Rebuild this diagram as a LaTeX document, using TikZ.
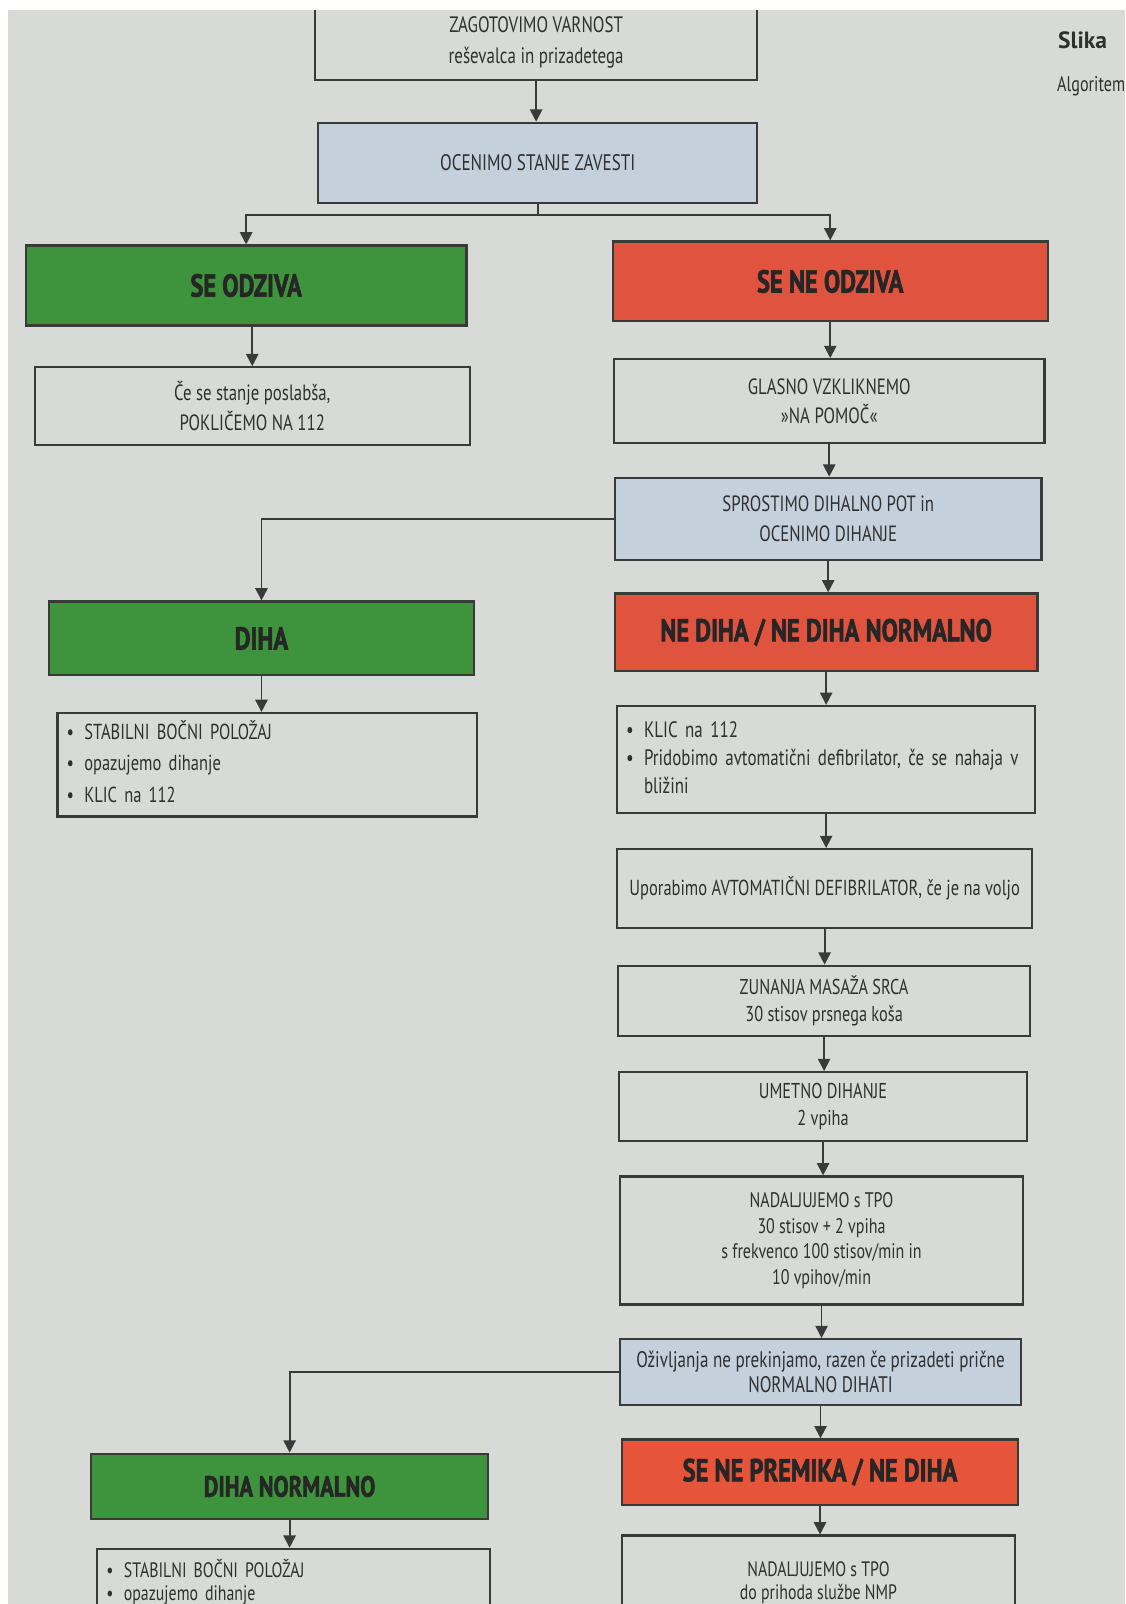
\documentclass[tikz,border=0pt]{standalone}
\usepackage{fontspec}
\setmainfont{PT Sans}
\newfontfamily\cf{PT Sans}[FakeStretch=0.76]
\newfontfamily\hf{PT Sans}[FakeStretch=0.77,BoldFeatures={FakeBold=1.8}]
\usetikzlibrary{arrows.meta}
\definecolor{paper}{HTML}{D8DAD8}
\definecolor{bluef}{HTML}{C4D1DD}
\definecolor{greenf}{HTML}{3E943C}
\definecolor{redf}{HTML}{E0533F}
\definecolor{redg}{HTML}{E6553A}
\definecolor{ink}{HTML}{303030}
\definecolor{edge}{HTML}{3A3A3A}
\newcommand\tf[2]{\cf\fontsize{#1}{#2}\selectfont}
\newcommand\hdf[1]{\hf\bfseries\fontsize{#1}{18}\selectfont}
\newcommand\bx[7]{\node[#6, minimum width={(#4-#2)*0.5pt}, minimum height={(#5-#3)*0.5pt}, anchor=north west] (#1) at (#2,#3) {#7};}
\tikzset{
  box/.style={draw=edge, line width=1.1pt, inner sep=0pt, align=center, text=ink, fill=paper},
  bluebox/.style={box, fill=bluef},
  greenbox/.style={box, fill=greenf, text=black!85, font=\hdf{15.5}},
  redbox/.style={box, fill=redf, text=black!85, font=\hdf{15.5}},
  bulbox/.style={box, align=left, inner xsep=4.5pt},
  arr/.style={draw=edge, line width=0.9pt, -{Triangle[length=6pt,width=6pt]}},
  ln/.style={draw=edge, line width=0.9pt}
}
\begin{document}
\begin{tikzpicture}[x=0.5pt,y=-0.5pt]
\useasboundingbox (0,0) rectangle (1100,1568);
\fill[white] (0,0) rectangle (1100,1568);
\begin{scope}
\clip (8,10) rectangle (1100,1568);
\fill[paper] (8,10) rectangle (1100,1568);
% right margin text
\node[anchor=base west, inner sep=0pt, text=ink, font=\bfseries\fontsize{11.5}{14}\selectfont] (slika) at (1034,47) {Slika};
\node[anchor=base west, inner sep=0pt, text=ink, font=\tf{10.4}{12}] (alg) at (1033,89) {Algoritem};
% boxes
\bx{z}{307}{4}{739}{77}{box, font=\tf{10.9}{15.5}}{ZAGOTOVIMO VARNOST\\ reševalca in prizadetega}
\bx{oc}{310}{119}{739}{197}{bluebox, font=\tf{11}{15}}{OCENIMO STANJE ZAVESTI}
\bx{se}{24}{239}{455}{317}{greenbox}{SE ODZIVA}
\bx{sne}{598}{235}{1023}{313}{redbox}{SE NE ODZIVA}
\bx{ce}{33}{358}{458}{434}{box, font=\tf{10.8}{14.5}}{Če se stanje poslabša,\\ POKLIČEMO NA 112}
\bx{gl}{599}{350}{1020}{432}{box, font=\tf{10.8}{14}}{GLASNO VZKLIKNEMO\\ »NA POMOČ«}
\bx{sp}{600}{466}{1017}{546}{bluebox, font=\tf{10.8}{14.5}}{SPROSTIMO DIHALNO POT in\\ OCENIMO DIHANJE}
\bx{diha}{47}{587}{462}{659}{greenbox}{DIHA}
\bx{nd}{600}{579}{1013}{655}{redbox}{NE DIHA / NE DIHA NORMALNO}
\bx{b1}{55}{696}{465}{797}{bulbox, text width={(465-55-18)*0.5pt}, font=\tf{10.6}{15.2}}{\begin{tabular}{@{}l@{\hspace{5pt}}l@{}}\textbullet & STABILNI BOČNI POLOŽAJ\\ \textbullet & opazujemo dihanje\\ \textbullet & KLIC na 112\end{tabular}}
\bx{b2}{602}{689}{1011}{794}{bulbox, text width={(1011-602-18)*0.5pt}, font=\tf{10.9}{13.8}}{\begin{tabular}{@{}l@{\hspace{5pt}}l@{}}\textbullet & KLIC na 112\\ \textbullet & Pridobimo avtomatični defibrilator, če se nahaja v\\ & bližini\end{tabular}}
\bx{up}{602}{829}{1008}{906}{box, font=\tf{10.6}{13.5}}{Uporabimo AVTOMATIČNI DEFIBRILATOR, če je na voljo}
\bx{zm}{603}{943}{1006}{1012}{box, font=\tf{10.5}{13}}{ZUNANJA MASAŽA SRCA\\ 30 stisov prsnega koša}
\bx{ud}{604}{1047}{1003}{1114}{box, font=\tf{10.5}{13}}{UMETNO DIHANJE\\ 2 vpiha}
\bx{nt}{605}{1149}{999}{1274}{box, font=\tf{10.3}{12.5}}{NADALJUJEMO s TPO\\ 30 stisov + 2 vpiha\\ s frekvenco 100 stisov/min in\\ 10 vpihov/min}
\bx{oz}{605}{1308}{997}{1372}{bluebox, font=\tf{11}{12}}{Oživljanja ne prekinjamo, razen če prizadeti prične\\ NORMALNO DIHATI}
\bx{dn}{88}{1420}{476}{1484}{greenbox, font=\hdf{14.3}}{DIHA NORMALNO}
\bx{snp}{607}{1406}{994}{1470}{redbox, fill=redg}{SE NE PREMIKA / NE DIHA}
\bx{b3}{94}{1513}{478}{1581}{bulbox, text width={(478-94-18)*0.5pt}, font=\tf{10.2}{11.2}}{\begin{tabular}{@{}l@{\hspace{5pt}}l@{}}\textbullet & STABILNI BOČNI POLOŽAJ\\ \textbullet & opazujemo dihanje\end{tabular}}
\bx{nt2}{607}{1500}{991}{1592}{box, font=\tf{10.2}{11.5}}{NADALJUJEMO s TPO\\ do prihoda službe NMP}
% connectors
\draw[arr] (z.south) -- (z.south |- oc.north);
\coordinate (j1) at (526,210);
\draw[ln] (oc.south) -- (oc.south |- j1);
\draw[arr] (oc.south |- j1) -| (se.north);
\draw[arr] (oc.south |- j1) -| (sne.north);
\draw[arr] (ce.north |- se.south) -- (ce.north);
\draw[arr] (sne.south) -- (sne.south |- gl.north);
\draw[arr] (gl.south) -- (gl.south |- sp.north);
\draw[arr] (sp.west) -| (diha.north);
\draw[arr] (sp.south) -- (sp.south |- nd.north);
\draw[arr] (diha.south) -- (diha.south |- b1.north);
\draw[arr] (nd.south) -- (nd.south |- b2.north);
\draw[arr] (b2.south) -- (b2.south |- up.north);
\draw[arr] (up.south) -- (up.south |- zm.north);
\draw[arr] (zm.south) -- (zm.south |- ud.north);
\draw[arr] (ud.south) -- (ud.south |- nt.north);
\draw[arr] (nt.south) -- (nt.south |- oz.north);
\draw[arr] (oz.west) -| (dn.north);
\draw[arr] (oz.south) -- (oz.south |- snp.north);
\draw[arr] (dn.south) -- (dn.south |- b3.north);
\draw[arr] (snp.south) -- (snp.south |- nt2.north);
\end{scope}
\end{tikzpicture}
\end{document}
